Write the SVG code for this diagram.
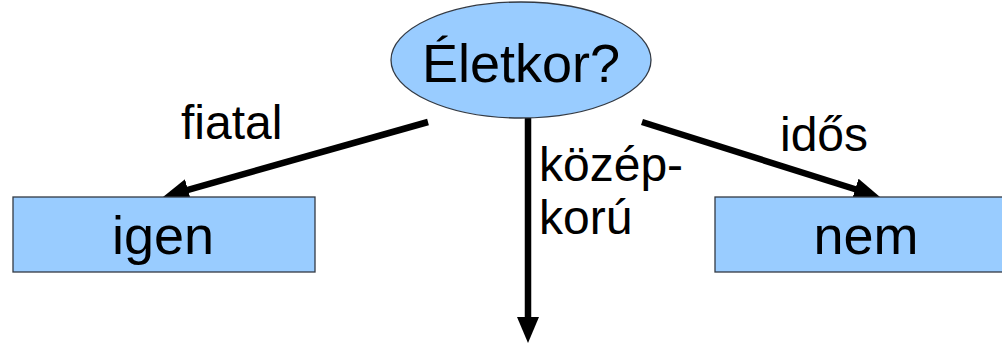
<svg xmlns="http://www.w3.org/2000/svg" width="1002" height="345" viewBox="0 0 1002 345">
  <style>
    .shape { fill: #99ccff; stroke: #333a44; stroke-width: 1.3; }
    .node-text { font-family: "Liberation Sans", Arial, sans-serif; font-size: 54px; fill: #000; text-anchor: middle; }
    .label { font-family: "Liberation Sans", Arial, sans-serif; font-size: 48px; fill: #000; }
    .edge { stroke: #000; stroke-width: 6.5; fill: none; marker-end: url(#arrow); }
  </style>
  <defs>
    <marker id="arrow" markerUnits="userSpaceOnUse" markerWidth="27" markerHeight="22" refX="11" refY="11" orient="auto">
      <path d="M0,0 L26,11 L0,22 z" fill="#000"/>
    </marker>
  </defs>
  <rect width="1002" height="345" fill="#fff"/>

  <g id="connectors">
    <line class="edge" x1="428" y1="122" x2="177.4" y2="192.9"/>
    <line class="edge" x1="528" y1="118" x2="528" y2="328"/>
    <line class="edge" x1="642" y1="122" x2="865.7" y2="192.5"/>
    <text class="label" x="181" y="139">fiatal</text>
    <text class="label" x="539" y="181">közép-</text>
    <text class="label" x="539" y="234">korú</text>
    <text class="label" x="780" y="151">idős</text>
  </g>

  <g id="node-eletkor">
    <ellipse class="shape" cx="521" cy="60" rx="130" ry="58"/>
    <text class="node-text" x="521" y="82">Életkor?</text>
  </g>

  <g id="node-igen">
    <rect class="shape" x="13" y="197" width="302" height="75"/>
    <text class="node-text" x="163" y="254">igen</text>
  </g>

  <g id="node-nem">
    <rect class="shape" x="715" y="197" width="302" height="75"/>
    <text class="node-text" x="866" y="254">nem</text>
  </g>
</svg>
